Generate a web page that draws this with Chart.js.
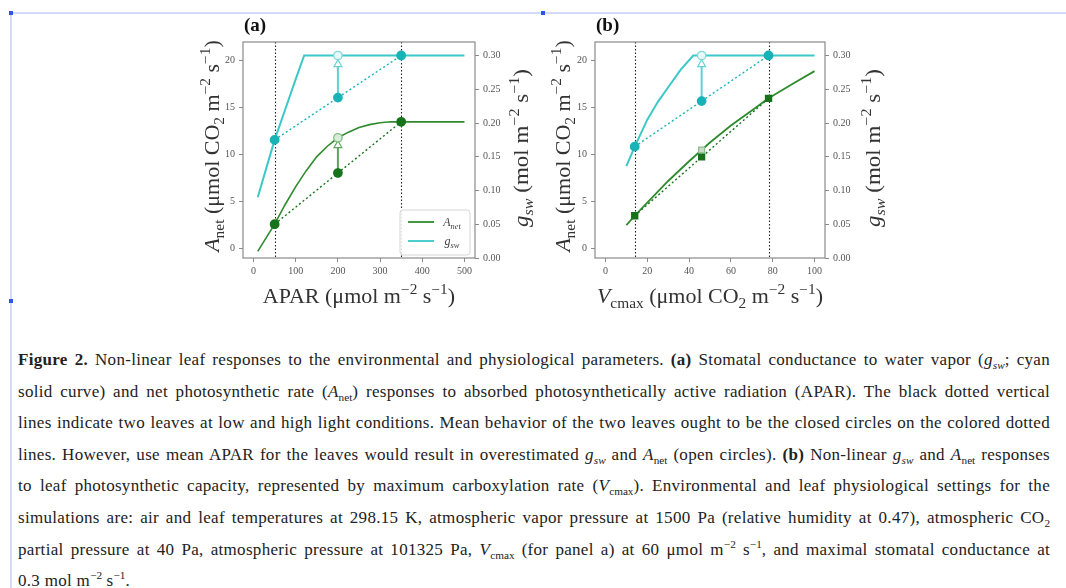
<!DOCTYPE html>
<html>
<head>
<meta charset="utf-8">
<script src="https://cdn.jsdelivr.net/npm/chart.js@4/dist/chart.umd.min.js"></script>
<style>
body { margin: 0; width: 1066px; height: 588px; background: #fff; position: relative; overflow: hidden; font-family: "Liberation Serif", "Times New Roman", "DejaVu Serif", serif; }
.selLine { position: absolute; background: #d3dafc; }
.handle { position: absolute; width: 4px; height: 4px; background: #2a55ee; }
.panel { position: absolute; top: 0; width: 355px; height: 310px; }
#caption { position: absolute; left: 18px; top: 344px; width: 1032px; font-size: 17px; letter-spacing: 0.3px; line-height: 31.6px; color: #222; }
#caption div { white-space: nowrap; height: 31.6px; }
#caption sub, #caption sup { font-size: 0.66em; line-height: 0; letter-spacing: 0; }
</style>
</head>
<body>
<div class="selLine" style="left:10px;top:12px;width:1056px;height:2px"></div>
<div class="selLine" style="left:10px;top:12px;width:2px;height:576px"></div>
<div class="handle" style="left:9px;top:11px"></div>
<div class="handle" style="left:541px;top:11px"></div>
<div class="handle" style="left:9px;top:299px"></div>

<canvas id="panelA" class="panel" style="left:190px" width="355" height="310"></canvas>
<canvas id="panelB" class="panel" style="left:545px" width="355" height="310"></canvas>

<div id="caption">
<div class="fill"><span><b>Figure 2.</b> Non-linear leaf responses to the environmental and physiological parameters. <b>(a)</b> Stomatal conductance to water vapor (<i>g</i><sub><i>sw</i></sub>; cyan</span></div>
<div class="fill"><span>solid curve) and net photosynthetic rate (<i>A</i><sub>net</sub>) responses to absorbed photosynthetically active radiation (APAR). The black dotted vertical</span></div>
<div class="fill"><span>lines indicate two leaves at low and high light conditions. Mean behavior of the two leaves ought to be the closed circles on the colored dotted</span></div>
<div class="fill"><span>lines. However, use mean APAR for the leaves would result in overestimated <i>g</i><sub><i>sw</i></sub> and <i>A</i><sub>net</sub> (open circles). <b>(b)</b> Non-linear <i>g</i><sub><i>sw</i></sub> and <i>A</i><sub>net</sub> responses</span></div>
<div class="fill"><span>to leaf photosynthetic capacity, represented by maximum carboxylation rate (<i>V</i><sub>cmax</sub>). Environmental and leaf physiological settings for the</span></div>
<div class="fill"><span>simulations are: air and leaf temperatures at 298.15 K, atmospheric vapor pressure at 1500 Pa (relative humidity at 0.47), atmospheric CO<sub>2</sub></span></div>
<div class="fill"><span>partial pressure at 40 Pa, atmospheric pressure at 101325 Pa, <i>V</i><sub>cmax</sub> (for panel a) at 60 μmol m<sup>−2</sup> s<sup>−1</sup>, and maximal stomatal conductance at</span></div>
<div><span>0.3 mol m<sup>−2</sup> s<sup>−1</sup>.</span></div>
</div>

<script>
// ---- panel (a): response to APAR ----
const aparX = [10, 25, 50, 75, 100, 125, 150, 175, 200, 225, 250, 275, 300, 325, 350, 400, 450, 500];
const anetApar = [-0.3, 0.8, 2.6, 4.7, 6.6, 8.3, 9.8, 10.9, 11.8, 12.4, 12.9, 13.2, 13.4, 13.5, 13.5, 13.5, 13.5, 13.5];
const gswAparX = [10, 25, 50, 75, 100, 120, 150, 200, 300, 400, 500];
const gswApar = [0.090, 0.122, 0.175, 0.220, 0.265, 0.300, 0.300, 0.300, 0.300, 0.300, 0.300];
const leavesA = [50, 350];            // the two leaves (low / high light)
const anetLeavesA = [2.6, 13.5];
const gswLeavesA = [0.175, 0.300];
const meanA = [200];                  // mean APAR
const anetMeanA = [8.05];             // mean of the two leaves
const gswMeanA = [0.2375];
const anetAtMeanA = [11.8];           // response at mean APAR
const gswAtMeanA = [0.300];
const anetArrowTipA = [11.0];
const gswArrowTipA = [0.287];
const xTicksA = [0, 100, 200, 300, 400, 500];

// ---- panel (b): response to Vcmax ----
const vcmaxX = [10, 14, 20, 30, 40, 46, 50, 60, 70, 78, 90, 100];
const anetVcmax = [2.5, 3.5, 4.9, 7.2, 9.3, 10.5, 11.3, 13.1, 14.7, 16.0, 17.6, 18.9];
const gswVcmaxX = [10, 14, 20, 25, 30, 36, 42, 50, 60, 78, 100];
const gswVcmax = [0.136, 0.165, 0.205, 0.231, 0.253, 0.279, 0.300, 0.300, 0.300, 0.300, 0.300];
const leavesB = [14, 78];
const anetLeavesB = [3.5, 16.0];
const gswLeavesB = [0.165, 0.300];
const meanB = [46];
const anetMeanB = [9.78];
const gswMeanB = [0.2325];
const anetAtMeanB = [10.5];
const gswAtMeanB = [0.300];
const gswArrowTipB = [0.287];
const xTicksB = [0, 20, 40, 60, 80, 100];

const yTicks = [0, 5, 10, 15, 20];
const y2Ticks = [0, 0.05, 0.10, 0.15, 0.20, 0.25, 0.30];

const green = '#2e8b2e';
const greenDark = '#16731a';
const cyan = '#3cc8c8';
const cyanDark = '#17b3b6';
const serif = '"Liberation Serif", "Times New Roman", "DejaVu Serif", serif';

// stretch caption lines to full width by spreading the word gaps
const captionWidth = 1032;
document.querySelectorAll('#caption .fill').forEach(div => {
    const span = div.firstElementChild;
    const gaps = (span.textContent.match(/ /g) || []).length;
    const extra = captionWidth - span.getBoundingClientRect().width;
    if (gaps > 0) span.style.wordSpacing = (extra / gaps) + 'px';
});

const pts = (xs, ys) => xs.map((x, i) => ({ x: x, y: ys[i] }));

// draws text made of pieces: style has i (italic), b (bold), _ (sub), ^ (sup)
function drawRich(ctx, parts, x, y, size, color, stretch) {
    const fontFor = (st) => {
        const small = st.includes('_') || st.includes('^');
        return (st.includes('i') ? 'italic ' : '') + (st.includes('b') ? 'bold ' : '') +
            (small ? size * 0.7 : size) + 'px ' + serif;
    };
    let w = 0;
    parts.forEach(p => { ctx.font = fontFor(p[1]); w += ctx.measureText(p[0]).width; });
    ctx.save();
    ctx.translate(x, y);
    ctx.scale(stretch || 1, 1);
    let cx = -w / 2;
    ctx.fillStyle = color;
    ctx.textAlign = 'left';
    ctx.textBaseline = 'alphabetic';
    parts.forEach(p => {
        ctx.font = fontFor(p[1]);
        let dy = 0;
        if (p[1].includes('_')) dy = size * 0.25;
        if (p[1].includes('^')) dy = -size * 0.42;
        ctx.fillText(p[0], cx, size * 0.33 + dy);
        cx += ctx.measureText(p[0]).width;
    });
    ctx.restore();
}

const anetTitle = [['A', 'i'], ['net', '_'], [' (μmol CO', ''], ['2', '_'], [' m', ''], ['−2', '^'], [' s', ''], ['−1', '^'], [')', '']];
const gswTitle = [['g', 'i'], ['sw', '_i'], [' (mol m', ''], ['−2', '^'], [' s', ''], ['−1', '^'], [')', '']];
const aparTitle = [['APAR (μmol m', ''], ['−2', '^'], [' s', ''], ['−1', '^'], [')', '']];
const vcmaxTitle = [['V', 'i'], ['cmax', '_'], [' (μmol CO', ''], ['2', '_'], [' m', ''], ['−2', '^'], [' s', ''], ['−1', '^'], [')', '']];

// frame, dotted leaf lines, titles, legend
const decorPlugin = {
    id: 'decor',
    beforeDatasetsDraw(chart) {
        const o = chart.options.plugins.decor;
        const a = chart.chartArea, ctx = chart.ctx, xs = chart.scales.x;
        ctx.save();
        ctx.strokeStyle = '#222';
        ctx.lineWidth = 1.1;
        ctx.setLineDash([1.5, 2]);
        o.leaves.forEach(v => {
            const px = Math.round(xs.getPixelForValue(v)) + 0.5;
            ctx.beginPath();
            ctx.moveTo(px, a.top);
            ctx.lineTo(px, a.bottom);
            ctx.stroke();
        });
        ctx.restore();
    },
    afterDraw(chart) {
        const o = chart.options.plugins.decor;
        const a = chart.chartArea, ctx = chart.ctx;
        ctx.save();
        ctx.strokeStyle = '#8a8a8a';
        ctx.lineWidth = 1.2;
        ctx.strokeRect(a.left, a.top, a.right - a.left, a.bottom - a.top);

        ctx.font = 'bold 19px ' + serif;
        ctx.fillStyle = '#111';
        ctx.textAlign = 'left';
        ctx.textBaseline = 'middle';
        ctx.fillText(o.label, a.left + 1, 26);

        const midY = (a.top + a.bottom) / 2;
        drawRich(ctx, o.xTitle, (a.left + a.right) / 2, 296, 20, '#333', 1.1);
        ctx.save();
        ctx.translate(o.leftTitleX, midY - 4);
        ctx.rotate(-Math.PI / 2);
        drawRich(ctx, anetTitle, 0, 0, 20, '#333', 1.1);
        ctx.restore();
        ctx.save();
        ctx.translate(o.rightTitleX, midY - 2);
        ctx.rotate(-Math.PI / 2);
        drawRich(ctx, gswTitle, 0, 0, 20, '#333', 1.15);
        ctx.restore();

        if (o.legend) {
            const bx = a.right - 75, by = a.bottom - 48, bw = 70, bh = 45;
            ctx.fillStyle = 'rgba(255,255,255,0.85)';
            ctx.strokeStyle = '#d6d6d6';
            ctx.lineWidth = 1;
            ctx.beginPath();
            ctx.roundRect(bx, by, bw, bh, 3);
            ctx.fill();
            ctx.stroke();
            const rows = [[green, [['A', 'i'], ['net', '_i']]], [cyan, [['g', 'i'], ['sw', '_i']]]];
            rows.forEach((r, i) => {
                const ry = by + 12 + i * 19;
                ctx.strokeStyle = r[0];
                ctx.lineWidth = 1.8;
                ctx.beginPath();
                ctx.moveTo(bx + 8, ry);
                ctx.lineTo(bx + 34, ry);
                ctx.stroke();
                drawRich(ctx, r[1], bx + 52, ry, 12, '#444', 1);
            });
        }
        ctx.restore();
    }
};

function curveSet(data, color, axis, width) {
    return { data: data, yAxisID: axis, showLine: true, borderColor: color, borderWidth: width, pointRadius: 0, order: 5 };
}
function chordSet(data, color, axis, style) {
    return { data: data, yAxisID: axis, showLine: true, borderColor: color, borderWidth: 1.4, borderDash: [2, 2.5],
        pointRadius: 4.2, pointStyle: style, pointBackgroundColor: color, pointBorderColor: color, order: 3 };
}
function dotSet(data, fill, border, axis, style) {
    return { data: data, yAxisID: axis, showLine: false, pointRadius: 4.2, pointStyle: style,
        pointBackgroundColor: fill, pointBorderColor: border, pointBorderWidth: 1.3, order: 1 };
}
function arrowSet(data, color, axis) {
    return { data: data, yAxisID: axis, showLine: true, borderColor: color, borderWidth: 2,
        pointRadius: [0, 4.5], pointStyle: 'triangle', pointBackgroundColor: '#ffffff', pointBorderColor: color,
        pointBorderWidth: 1.2, order: 2 };
}

function scalesFor(xMin, xMax, xTicks, leftW, rightW) {
    const tickFont = { family: serif, size: 10 };
    const grid = { drawOnChartArea: false, drawTicks: true, tickLength: 4, color: '#8a8a8a' };
    return {
        x: {
            type: 'linear', min: xMin, max: xMax,
            afterBuildTicks: s => { s.ticks = xTicks.map(v => ({ value: v })); },
            afterFit: s => { s.height = 52; },
            grid: grid, border: { display: false },
            ticks: { font: tickFont, color: '#555', padding: 3, maxRotation: 0 }
        },
        y: {
            position: 'left', min: -1, max: 22,
            afterBuildTicks: s => { s.ticks = yTicks.map(v => ({ value: v })); },
            afterFit: s => { s.width = leftW; },
            grid: grid, border: { display: false },
            ticks: { font: tickFont, color: '#555', padding: 4 }
        },
        y2: {
            position: 'right', min: 0, max: 0.32,
            afterBuildTicks: s => { s.ticks = y2Ticks.map(v => ({ value: v })); },
            afterFit: s => { s.width = rightW; },
            grid: grid, border: { display: false },
            ticks: { font: tickFont, color: '#555', padding: 4, callback: v => v.toFixed(2) }
        }
    };
}

function baseOptions(scales, decor) {
    return {
        responsive: false,
        animation: false,
        layout: { padding: { top: 42, left: 0, right: 0, bottom: 0 } },
        plugins: { legend: { display: false }, tooltip: { enabled: false }, decor: decor },
        scales: scales
    };
}

new Chart(document.getElementById('panelA'), {
    type: 'scatter',
    plugins: [decorPlugin],
    data: {
        datasets: [
            dotSet(pts(meanA, anetAtMeanA), '#d8ecd8', '#7fbf7f', 'y', 'circle'),
            dotSet(pts(meanA, gswAtMeanA), '#e6f8f8', '#84d8d9', 'y2', 'circle'),
            dotSet(pts(meanA, anetMeanA), greenDark, greenDark, 'y', 'circle'),
            dotSet(pts(meanA, gswMeanA), cyanDark, cyanDark, 'y2', 'circle'),
            arrowSet(pts([meanA[0], meanA[0]], [anetMeanA[0], anetArrowTipA[0]]), '#5aa65a', 'y'),
            arrowSet(pts([meanA[0], meanA[0]], [gswMeanA[0], gswArrowTipA[0]]), '#5fd2d3', 'y2'),
            chordSet(pts(leavesA, anetLeavesA), greenDark, 'y', 'circle'),
            chordSet(pts(leavesA, gswLeavesA), cyanDark, 'y2', 'circle'),
            curveSet(pts(aparX, anetApar), green, 'y', 1.6),
            curveSet(pts(gswAparX, gswApar), cyan, 'y2', 2)
        ]
    },
    options: baseOptions(scalesFor(-25, 525, xTicksA, 53, 70),
        { label: '(a)', leaves: leavesA, xTitle: aparTitle, leftTitleX: 22, rightTitleX: 331, legend: true })
});

new Chart(document.getElementById('panelB'), {
    type: 'scatter',
    plugins: [decorPlugin],
    data: {
        datasets: [
            dotSet(pts(meanB, anetAtMeanB), '#c9dcc9', '#8fbf8f', 'y', 'rect'),
            dotSet(pts(meanB, gswAtMeanB), '#e6f8f8', '#84d8d9', 'y2', 'circle'),
            dotSet(pts(meanB, anetMeanB), greenDark, greenDark, 'y', 'rect'),
            dotSet(pts(meanB, gswMeanB), cyanDark, cyanDark, 'y2', 'circle'),
            arrowSet(pts([meanB[0], meanB[0]], [gswMeanB[0], gswArrowTipB[0]]), '#5fd2d3', 'y2'),
            chordSet(pts(leavesB, anetLeavesB), greenDark, 'y', 'rect'),
            chordSet(pts(leavesB, gswLeavesB), cyanDark, 'y2', 'circle'),
            curveSet(pts(vcmaxX, anetVcmax), green, 'y', 1.8),
            curveSet(pts(gswVcmaxX, gswVcmax), cyan, 'y2', 2)
        ]
    },
    options: baseOptions(scalesFor(-5, 105, xTicksB, 50, 75),
        { label: '(b)', leaves: leavesB, xTitle: vcmaxTitle, leftTitleX: 18, rightTitleX: 328, legend: false })
});
</script>
</body>
</html>
